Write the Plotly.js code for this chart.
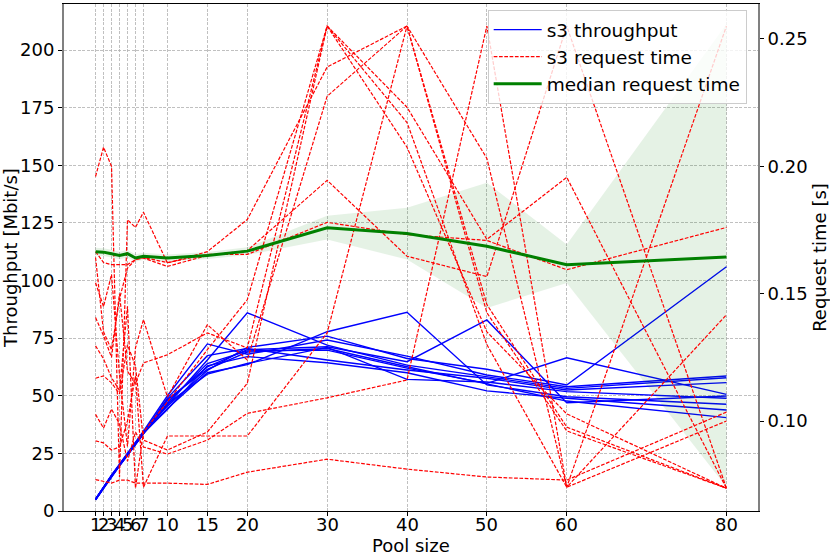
<!DOCTYPE html>
<html>
<head>
<meta charset="utf-8">
<script src="https://cdn.plot.ly/plotly-3.0.1.min.js"></script>
<style>
  html, body { margin: 0; padding: 0; background: #ffffff; }
  #chart { width: 830px; height: 559px; }
</style>
</head>
<body>
<div id="chart"></div>
<script>
const poolSizes = [1, 2, 3, 4, 5, 6, 7, 10, 15, 20, 30, 40, 50, 60, 80];

// throughput per run [Mbit/s]
const throughputRuns = [
  [5.0, 10.3, 15.2, 19.8, 24.6, 29.4, 34.0, 46.0, 65.5, 86.0, 72.0, 63.3, 58.3, 53.2, 57.8],
  [4.8, 10.0, 15.0, 19.6, 24.2, 29.0, 33.6, 44.5, 60.0, 63.5, 77.8, 86.2, 54.7, 49.6, 46.3],
  [5.1, 10.4, 15.4, 20.1, 24.8, 29.6, 34.3, 48.0, 62.5, 70.0, 71.3, 64.8, 82.9, 47.0, 49.9],
  [4.9, 10.1, 15.1, 19.9, 24.4, 29.2, 33.8, 47.0, 64.0, 69.5, 69.8, 62.0, 55.4, 66.5, 50.6],
  [5.0, 10.2, 15.3, 20.0, 24.5, 29.5, 34.1, 45.5, 61.0, 71.0, 75.9, 66.2, 61.5, 54.7, 106.0],
  [5.2, 10.5, 15.6, 20.3, 25.0, 29.9, 34.6, 50.0, 72.5, 68.0, 74.2, 67.2, 59.0, 53.9, 58.6],
  [4.9, 10.0, 15.0, 19.7, 24.3, 29.1, 33.7, 49.0, 67.4, 70.5, 65.5, 61.2, 57.6, 52.5, 55.7],
  [5.0, 10.2, 15.2, 19.9, 24.6, 29.3, 34.0, 44.0, 63.0, 67.0, 64.3, 60.0, 52.1, 48.9, 43.8],
  [5.1, 10.3, 15.3, 20.0, 24.7, 29.4, 34.2, 46.5, 59.4, 64.0, 71.0, 57.1, 56.0, 51.8, 48.9],
  [4.8, 9.9, 14.9, 19.6, 24.2, 28.9, 33.5, 48.5, 61.5, 69.0, 70.5, 62.6, 55.0, 47.7, 40.5],
];

// request time per run [s]
const requestTimeRuns = [
  [0.196, 0.2075, 0.200, 0.078, 0.179, 0.176, 0.182, 0.162, 0.1665, 0.1791, 0.2390, 0.2551, 0.1457, 0.0976, 0.0736],
  [0.1543, 0.1449, 0.1575, 0.118, 0.090, 0.1287, 0.1398, 0.1094, 0.1378, 0.124, 0.2275, 0.2551, 0.1425, 0.0961, 0.0736],
  [0.0922, 0.0914, 0.0886, 0.0898, 0.100, 0.1177, 0.0740, 0.0941, 0.0941, 0.0941, 0.1346, 0.2551, 0.2031, 0.0740, 0.2551],
  [0.1665, 0.1622, 0.1614, 0.1614, 0.1614, 0.1634, 0.1642, 0.1622, 0.1654, 0.1654, 0.1780, 0.1732, 0.1709, 0.1594, 0.1760],
  [0.1642, 0.135, 0.128, 0.148, 0.160, 0.1634, 0.1640, 0.1607, 0.1650, 0.1669, 0.1945, 0.1647, 0.1567, 0.2551, 0.0736],
  [0.1026, 0.0972, 0.1047, 0.0988, 0.0842, 0.0957, 0.0898, 0.0870, 0.0925, 0.1030, 0.1091, 0.1161, 0.2551, 0.0740, 0.1417],
  [0.0770, 0.0762, 0.0756, 0.0768, 0.0768, 0.0756, 0.0756, 0.0756, 0.0751, 0.0799, 0.0850, 0.0811, 0.0780, 0.0768, 0.1035],
  [0.1295, 0.1244, 0.117, 0.112, 0.145, 0.0736, 0.0957, 0.1075, 0.1280, 0.1476, 0.2551, 0.2232, 0.1713, 0.1957, 0.0736],
  [0.1406, 0.1335, 0.125, 0.150, 0.1195, 0.1147, 0.1228, 0.126, 0.1346, 0.1287, 0.2551, 0.2172, 0.130, 0.0740, 0.1000],
  [0.1168, 0.1177, 0.115, 0.1106, 0.1299, 0.1216, 0.0925, 0.0886, 0.0957, 0.1148, 0.2551, 0.2075, 0.135, 0.1028, 0.0736],
];

const medianRequestTime = [0.1665, 0.1663, 0.1657, 0.1650, 0.1657, 0.1640, 0.1647, 0.1640, 0.1650, 0.1667, 0.1759, 0.1736, 0.1686, 0.1614, 0.1644];
const medianBandUpper = [0.1680, 0.1678, 0.1672, 0.1665, 0.1671, 0.1655, 0.1661, 0.1654, 0.1664, 0.1682, 0.1806, 0.1837, 0.1936, 0.1693, 0.2559];
const medianBandLower = [0.1650, 0.1648, 0.1642, 0.1635, 0.1642, 0.1626, 0.1632, 0.1626, 0.1636, 0.1652, 0.1713, 0.1634, 0.1444, 0.1542, 0.0741];

const FONT = 'DejaVu Sans';

const traces = [];

throughputRuns.forEach((run, i) => {
  traces.push({
    type: 'scatter',
    mode: 'lines',
    x: poolSizes,
    y: run,
    name: 's3 throughput',
    legendgroup: 'tp',
    showlegend: i === 0,
    line: { color: '#0000ff', width: 1.4 },
    yaxis: 'y',
    hoverinfo: 'skip',
  });
});

// shaded band around the median
traces.push({
  type: 'scatter',
  mode: 'lines',
  x: poolSizes,
  y: medianBandLower,
  line: { width: 0, color: 'rgba(0,0,0,0)' },
  showlegend: false,
  yaxis: 'y2',
  hoverinfo: 'skip',
});
traces.push({
  type: 'scatter',
  mode: 'lines',
  x: poolSizes,
  y: medianBandUpper,
  fill: 'tonexty',
  fillcolor: 'rgba(0,128,0,0.1)',
  line: { width: 0, color: 'rgba(0,0,0,0)' },
  showlegend: false,
  yaxis: 'y2',
  hoverinfo: 'skip',
});

requestTimeRuns.forEach((run, i) => {
  traces.push({
    type: 'scatter',
    mode: 'lines',
    x: poolSizes,
    y: run,
    name: 's3 request time',
    legendgroup: 'rt',
    showlegend: i === 0,
    line: { color: '#ff0000', width: 1.2, dash: '3.7px,1.6px' },
    yaxis: 'y2',
    hoverinfo: 'skip',
  });
});

traces.push({
  type: 'scatter',
  mode: 'lines',
  x: poolSizes,
  y: medianRequestTime,
  name: 'median request time',
  line: { color: '#008000', width: 3 },
  yaxis: 'y2',
  hoverinfo: 'skip',
});

// x tick labels sit a bit closer to the axis than plotly puts them
const xTickLabels = poolSizes.map((p) => ({
  x: p,
  xref: 'x',
  y: 0,
  yref: 'paper',
  yanchor: 'middle',
  yshift: -13,
  text: String(p),
  showarrow: false,
  font: { family: FONT, size: 18, color: '#000000' },
}));

const gridStyle = {
  showgrid: true,
  gridcolor: '#b0b0b0',
  griddash: '3px,1.5px',
  gridwidth: 0.8,
};

const layout = {
  width: 830,
  height: 559,
  margin: { l: 64, r: 72, t: 4, b: 48 },
  paper_bgcolor: '#ffffff',
  plot_bgcolor: '#ffffff',
  font: { family: FONT, size: 18, color: '#000000' },
  xaxis: {
    ...gridStyle,
    range: [-2.95, 83.95],
    tickmode: 'array',
    tickvals: poolSizes,
    showticklabels: false,
    ticks: 'outside',
    ticklen: 4,
    tickcolor: '#000000',
    zeroline: false,
    showline: true,
    linecolor: '#000000',
    linewidth: 1,
    mirror: true,
  },
  yaxis: {
    ...gridStyle,
    range: [0, 220],
    tickmode: 'array',
    tickvals: [0, 25, 50, 75, 100, 125, 150, 175, 200],
    ticks: 'outside',
    ticklen: 4,
    tickcolor: '#000000',
    zeroline: false,
    showline: true,
    linecolor: '#808080',
    linewidth: 2,
    title: { text: 'Throughput [Mbit/s]', font: { size: 18 }, standoff: 6 },
  },
  yaxis2: {
    overlaying: 'y',
    side: 'right',
    range: [0.06466, 0.26374],
    tickmode: 'array',
    tickvals: [0.10, 0.15, 0.20, 0.25],
    ticktext: ['0.10', '0.15', '0.20', '0.25'],
    ticks: 'outside',
    ticklen: 4,
    tickcolor: '#000000',
    showgrid: false,
    zeroline: false,
    showline: true,
    linecolor: '#808080',
    linewidth: 2,
    title: { text: 'Request time [s]', font: { size: 18 }, standoff: 7 },
  },
  annotations: [
    ...xTickLabels,
    {
      x: 0.5,
      xref: 'paper',
      y: 0,
      yref: 'paper',
      yanchor: 'middle',
      yshift: -34,
      text: 'Pool size',
      showarrow: false,
      font: { family: FONT, size: 18, color: '#000000' },
    },
  ],
  legend: {
    x: 0.6105,
    y: 0.988,
    xanchor: 'left',
    yanchor: 'top',
    bgcolor: 'rgba(255,255,255,0.8)',
    bordercolor: '#cccccc',
    borderwidth: 1,
    font: { family: FONT, size: 18.5 },
    itemwidth: 48,
    traceorder: 'normal',
    tracegroupgap: 0,
  },
  showlegend: true,
};

Plotly.newPlot('chart', traces, layout, { staticPlot: true, displayModeBar: false });
</script>
</body>
</html>
